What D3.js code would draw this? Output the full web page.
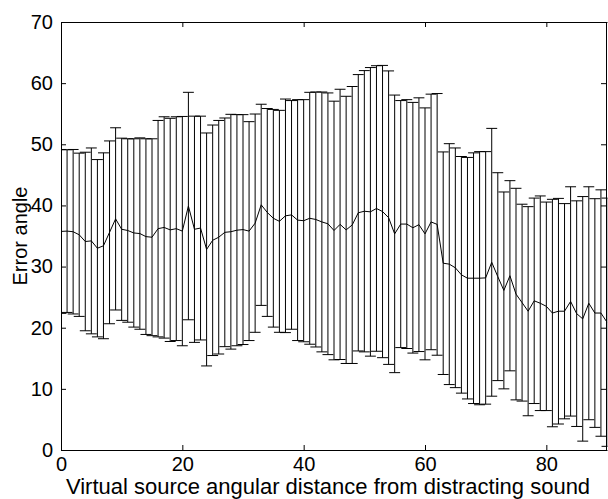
<!DOCTYPE html>
<html>
<head>
<meta charset="utf-8">
<script src="https://cdn.jsdelivr.net/npm/d3@7"></script>
<style>
  body { margin: 0; background: #fff; }
  svg { display: block; }
</style>
</head>
<body>
<div id="plot"></div>
<script>
//Set Height and Width Vars;
const w = 608;
const h = 499;

//Data;
const xVals = [0,1,2,3,4,5,6,7,8,9,10,11,12,13,14,15,16,17,18,19,20,
  21,22,23,24,25,26,27,28,29,30,31,32,33,34,35,36,37,38,39,40,
  41,42,43,44,45,46,47,48,49,50,51,52,53,54,55,56,57,58,59,60,
  61,62,63,64,65,66,67,68,69,70,71,72,73,74,75,76,77,78,79,80,
  81,82,83,84,85,86,87,88,89,90];

const meanVals = [35.75,35.8,35.7,35.2,34.1,34.2,33.0,33.4,35.6,37.8,36.1,
  35.9,35.5,35.4,34.9,34.8,36.2,36.4,36.0,36.2,35.8,
  39.9,36.1,36.3,32.8,34.3,34.8,35.6,35.7,35.95,36.05,
  35.8,37.1,40.1,38.85,37.9,37.4,38.3,38.45,37.6,37.5,
  37.9,37.7,37.3,37.0,35.9,36.9,36.0,36.8,38.8,39.05,
  38.95,39.5,39.0,38.0,35.35,36.95,36.95,36.35,36.85,35.35,
  37.3,36.9,30.55,30.4,29.8,28.65,28.1,28.1,28.1,28.15,
  30.7,28.35,26.1,28.5,25.5,24.1,22.7,24.4,24.0,23.5,
  22.4,22.7,22.7,24.3,22.3,21.45,24.0,22.4,22.4,20.9];

const errVals = [13.4,13.3,13.45,13.35,14.6,15.2,14.5,15.2,14.95,14.9,14.9,
  15.0,15.4,15.65,16.0,16.1,17.7,18.1,18.25,18.3,18.75,
  18.6,18.5,18.3,19.05,18.85,19.1,18.7,19.2,18.9,18.8,
  17.9,17.85,16.45,17.0,17.8,18.15,19.1,18.7,19.7,19.8,
  20.6,20.85,21.25,21.4,21.15,22.1,21.85,22.65,22.6,23.0,
  23.6,23.35,23.9,24.0,22.7,20.2,20.35,20.5,20.75,20.6,
  20.9,21.4,18.2,19.7,19.6,19.35,19.75,20.5,20.7,20.65,
  21.9,17.0,16.1,15.55,17.3,16.1,17.1,16.8,17.55,17.05,
  18.6,18.45,17.6,18.75,18.45,20.0,19.05,18.7,20.15,20.3];

const xTicks = [0,20,40,60,80];
const yTicks = [0,10,20,30,40,50,60,70];

const xLabel = "Virtual source angular distance from distracting sound";
const yLabel = "Error angle";

//Build rows;
let rows = [];
for(let i=0; i < xVals.length; i++){
	rows.push({x: xVals[i], m: meanVals[i], e: errVals[i]});
}

//Initialize SVG;
const svg = d3.select("#plot")
			  .append("svg")
				.attr("width", w)
				.attr("height", h);

const fontFam = "'Liberation Sans', Arial, Helvetica, sans-serif";

//Scales;
const xScale = d3.scaleLinear()
			   .domain([0,90])
			   .range([61,607]);

const yScale = d3.scaleLinear()
			   .domain([0,70])
			   .range([450,22]);

//Clip to axes;
svg.append("clipPath")
	 .attr("id","plotClip")
   .append("rect")
	 .attr("x", xScale(0)+0.5)
	 .attr("y", yScale(70))
	 .attr("width", xScale(90)-xScale(0))
	 .attr("height", yScale(0)-yScale(70));

const plotArea = svg.append("g")
	 .attr("class","plotArea")
	 .attr("clip-path","url(#plotClip)");

//Cap half width (matlab style, 1/100 of x range);
const tee = (d3.max(xVals)-d3.min(xVals))/100;

//Vertical bars;
plotArea.selectAll("line.bar")
	 .data(rows)
	 .enter()
   .append("line")
	 .attr("class","bar")
	 .attr("x1", d => xScale(d.x))
	 .attr("x2", d => xScale(d.x))
	 .attr("y1", d => yScale(d.m - d.e))
	 .attr("y2", d => yScale(d.m + d.e))
	 .attr("stroke","#000")
	 .attr("stroke-width",1);

//Upper caps;
plotArea.selectAll("line.capU")
	 .data(rows)
	 .enter()
   .append("line")
	 .attr("class","capU")
	 .attr("x1", d => xScale(d.x - tee))
	 .attr("x2", d => xScale(d.x + tee))
	 .attr("y1", d => yScale(d.m + d.e))
	 .attr("y2", d => yScale(d.m + d.e))
	 .attr("stroke","#000")
	 .attr("stroke-width",1);

//Lower caps;
plotArea.selectAll("line.capL")
	 .data(rows)
	 .enter()
   .append("line")
	 .attr("class","capL")
	 .attr("x1", d => xScale(d.x - tee))
	 .attr("x2", d => xScale(d.x + tee))
	 .attr("y1", d => yScale(d.m - d.e))
	 .attr("y2", d => yScale(d.m - d.e))
	 .attr("stroke","#000")
	 .attr("stroke-width",1);

//Mean line;
const meanLine = d3.line()
	 .x(d => xScale(d.x))
	 .y(d => yScale(d.m));

plotArea.append("path")
	 .datum(rows)
	 .attr("d", meanLine)
	 .attr("fill","none")
	 .attr("stroke","#000")
	 .attr("stroke-width",1);

//Axes;
const xAxis = d3.axisBottom(xScale).tickValues(xTicks).tickSize(-5).tickSizeOuter(0).tickPadding(7);
const yAxis = d3.axisLeft(yScale).tickValues(yTicks).tickSize(-5).tickSizeOuter(0).tickPadding(8);
const xAxisTop = d3.axisTop(xScale).tickValues(xTicks).tickSize(-5).tickSizeOuter(0).tickFormat("");
const yAxisRight = d3.axisRight(yScale).tickValues(yTicks).tickSize(-5).tickSizeOuter(0).tickFormat("");

svg.append("g")
   .attr("class","axis")
   .attr("transform","translate(0," + yScale(0) + ")")
   .call(xAxis);

svg.append("g")
   .attr("class","axis")
   .attr("transform","translate(" + xScale(0) + ",0)")
   .call(yAxis);

svg.append("g")
   .attr("class","axis")
   .attr("transform","translate(0," + yScale(70) + ")")
   .call(xAxisTop);

svg.append("g")
   .attr("class","axis")
   .attr("transform","translate(" + (xScale(90)-1) + ",0)")
   .call(yAxisRight);

svg.selectAll(".axis path, .axis line")
   .attr("stroke","#000")
   .attr("stroke-width",1);

svg.selectAll(".axis text")
   .attr("font-family", fontFam)
   .attr("font-size","20px")
   .attr("fill","#000");

//Axis labels;
svg.append("text")
   .text(xLabel)
   .attr("x", 328)
   .attr("y", 494)
   .attr("text-anchor","middle")
   .attr("font-family", fontFam)
   .attr("font-size","22px")
   .attr("fill","#000");

svg.append("text")
   .text(yLabel)
   .attr("transform","translate(27," + ((yScale(0)+yScale(70))/2) + ") rotate(-90)")
   .attr("text-anchor","middle")
   .attr("font-family", fontFam)
   .attr("font-size","20px")
   .attr("fill","#000");
</script>
</body>
</html>
